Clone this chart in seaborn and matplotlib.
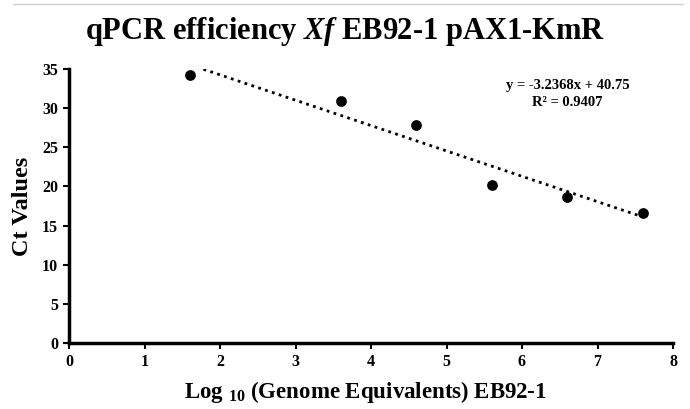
import matplotlib
matplotlib.use("Agg")
import matplotlib.pyplot as plt
import seaborn as sns
import pandas as pd
from matplotlib.lines import Line2D

# Data
log_ge = [1.6, 3.6, 4.6, 5.6, 6.6, 7.6]
ct_values = [34.2, 30.9, 27.9, 20.2, 18.7, 16.6]
x_ticks = [0, 1, 2, 3, 4, 5, 6, 7, 8]
y_ticks = [0, 5, 10, 15, 20, 25, 30, 35]
title_text = "qPCR efficiency $\\mathit{Xf}$ EB92-1 pAX1-KmR"
xlabel_text = "Log $_{10}$ (Genome Equivalents) EB92-1"
ylabel_text = "Ct Values"
eq_text = "y = -3.2368x + 40.75"
r2_text = "R\u00b2 = 0.9407"

df = pd.DataFrame({"x": log_ge, "y": ct_values})

sns.set_theme(style="white")
plt.rcParams["font.family"] = ["Liberation Serif", "DejaVu Serif"]
plt.rcParams["font.weight"] = "bold"
plt.rcParams["text.color"] = "black"
plt.rcParams["axes.labelcolor"] = "black"
plt.rcParams["xtick.color"] = "black"
plt.rcParams["ytick.color"] = "black"
plt.rcParams["mathtext.fontset"] = "custom"
plt.rcParams["mathtext.rm"] = "Liberation Serif:bold"
plt.rcParams["mathtext.bf"] = "Liberation Serif:bold"
plt.rcParams["mathtext.it"] = "Liberation Serif:bold:italic"

fig = plt.figure(figsize=(6.9, 4.09), dpi=100)
ax = fig.add_axes([69 / 690, 66 / 409, 604 / 690, 274 / 409])

sns.regplot(
    data=df, x="x", y="y", ax=ax, ci=None, truncate=True,
    scatter_kws=dict(s=60, color="black", alpha=1, zorder=3, linewidths=0),
    line_kws=dict(color="black", lw=2, linestyle=(0, (1, 1.6)), zorder=2),
)

ax.set_xlim(0, 8)
ax.set_ylim(0, 35)
ax.set_xticks(x_ticks)
ax.set_yticks(y_ticks)
ax.set_xticklabels([str(t) for t in x_ticks], fontsize=11.5, fontweight="bold")
ax.set_yticklabels([str(t) for t in y_ticks], fontsize=11.5, fontweight="bold")
ax.tick_params(axis="both", direction="out", length=4, width=1.5, color="black",
               labelcolor="black", bottom=True, left=True, pad=4)

for s in ["top", "right"]:
    ax.spines[s].set_visible(False)
for s in ["left", "bottom"]:
    ax.spines[s].set_color("black")
    ax.spines[s].set_linewidth(2.5)

ax.set_xlabel(xlabel_text, fontsize=16.5, fontweight="bold", labelpad=8, color="black")
ax.set_ylabel(ylabel_text, fontsize=17.5, fontweight="bold", labelpad=6, color="black")
ax.xaxis.set_label_coords((365 - 69) / 604, -0.13)

fig.text(0.5, 1 - 32 / 409, title_text, ha="center", va="center",
         fontsize=22, fontweight="bold", color="black")

fig.text(568 / 690, 1 - 86 / 409, eq_text, ha="center", va="center",
         fontsize=10.5, fontweight="bold", color="black")
fig.text(567 / 690, 1 - 102 / 409, r2_text, ha="center", va="center",
         fontsize=10.5, fontweight="bold", color="black")

fig.add_artist(Line2D([13 / 690, 683 / 690], [1 - 4 / 409, 1 - 4 / 409],
                      transform=fig.transFigure, color="#d0d0d0", lw=1))

fig.savefig("out.png", dpi=100)
